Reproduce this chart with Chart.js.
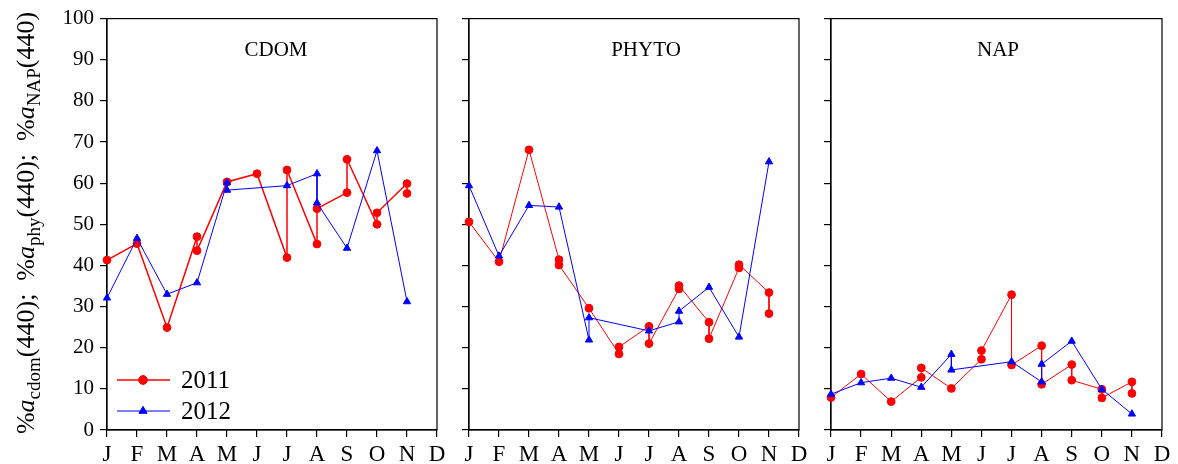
<!DOCTYPE html>
<html>
<head>
<meta charset="utf-8">
<script src="https://cdn.jsdelivr.net/npm/chart.js@4.4.1/dist/chart.umd.min.js"></script>
<style>
  html, body { margin: 0; padding: 0; background: #fff; }
  #wrap { position: relative; width: 1178px; height: 464px; background: #fff; overflow: hidden; }
  canvas { position: absolute; top: 0; }
</style>
</head>
<body>
<div id="wrap">
  <canvas id="c1" style="left:0px"></canvas>
  <canvas id="c2" style="left:455px"></canvas>
  <canvas id="c3" style="left:815px"></canvas>
</div>
<script>
// Month tick labels (x = 0 .. 11)
const MONTH_LABELS = ['J','F','M','A','M','J','J','A','S','O','N','D'];
const Y_TICKS = [0,10,20,30,40,50,60,70,80,90,100];
const YEARS = ['2011', '2012'];

// CDOM share of absorption at 440 nm (%), in sampling order
const cdomMonths2011 = [0,1,2,3,3,4,5,6,6,7,7,8,8,9,9,10,10];
const cdom2011 = [41.3,45.3,24.9,47.0,43.6,60.3,62.3,41.9,63.2,45.2,53.8,57.7,65.8,50.0,52.8,59.9,57.5];
const cdomMonths2012 = [0,1,2,3,4,4,6,7,7,8,9,10];
const cdom2012 = [32.1,46.6,33.0,35.8,60.1,58.3,59.4,62.3,55.2,44.2,67.9,31.2];

// Phytoplankton share (%)
const phytoMonths2011 = [0,1,2,3,3,4,5,5,6,6,7,7,8,8,9,9,10,10];
const phyto2011 = [50.6,40.9,68.1,41.4,40.1,29.6,18.5,20.2,25.2,21.0,34.3,35.1,26.2,22.2,39.4,40.2,33.4,28.3];
const phytoMonths2012 = [0,1,2,3,4,4,6,7,7,8,9,10];
const phyto2012 = [59.4,42.3,54.6,54.2,21.9,27.3,24.1,26.3,28.9,34.7,22.6,65.2];

// Non-algal particle share (%)
const napMonths2011 = [0,1,2,3,3,4,5,5,6,6,7,7,8,8,9,9,10,10];
const nap2011 = [7.9,13.6,6.9,12.8,15.1,10.1,17.2,19.3,32.9,15.8,20.5,11.1,15.9,12.1,9.9,7.8,11.7,8.9];
const napMonths2012 = [0,1,2,3,4,4,6,7,7,8,9,10];
const nap2012 = [8.7,11.5,12.6,10.4,18.4,14.6,16.6,11.7,16.0,21.6,9.9,3.9];

const SERIF = "'Liberation Serif', 'Times New Roman', serif";
const RED = '#ff0000';
const BLUE = '#0000ff';

function pairs(xs, ys) {
  return xs.map((x, i) => ({ x: x, y: ys[i] }));
}

// Box around the plotting area (top and right sides come from here)
const framePlugin = {
  id: 'frame',
  beforeDatasetsDraw(chart) {
    const a = chart.chartArea;
    const ctx = chart.ctx;
    ctx.save();
    ctx.strokeStyle = '#000';
    ctx.lineWidth = 1.2;
    ctx.strokeRect(a.left, a.top, a.right - a.left, a.bottom - a.top);
    ctx.restore();
  }
};

// Panel name inside the plot
const panelTitlePlugin = {
  id: 'panelTitle',
  afterDraw(chart, args, opts) {
    if (!opts || !opts.text) return;
    const ctx = chart.ctx;
    ctx.save();
    ctx.font = '21px ' + SERIF;
    ctx.fillStyle = '#000';
    ctx.textAlign = 'center';
    ctx.textBaseline = 'alphabetic';
    ctx.fillText(opts.text, opts.x, opts.y);
    ctx.restore();
  }
};

// Legend drawn inside the first panel, using the dataset styles
const insetLegendPlugin = {
  id: 'insetLegend',
  afterDraw(chart, args, opts) {
    if (!opts || !opts.show) return;
    const ctx = chart.ctx;
    const rows = [380, 411];
    chart.data.datasets.forEach((ds, i) => {
      const y = rows[i];
      ctx.save();
      ctx.strokeStyle = ds.borderColor;
      ctx.lineWidth = ds.borderWidth;
      ctx.beginPath();
      ctx.moveTo(117, y);
      ctx.lineTo(170, y);
      ctx.stroke();
      ctx.fillStyle = ds.pointBackgroundColor;
      ctx.strokeStyle = ds.pointBorderColor;
      ctx.lineWidth = 1;
      Chart.helpers.drawPoint(ctx, {
        pointStyle: ds.pointStyle,
        radius: ds.pointRadius + 0.5,
        rotation: 0,
        borderWidth: 1
      }, 143, y);
      ctx.font = '25px ' + SERIF;
      ctx.fillStyle = '#000';
      ctx.textAlign = 'left';
      ctx.textBaseline = 'middle';
      ctx.fillText(ds.label, 181, y + 1);
      ctx.restore();
    });
  }
};

// Rotated y-axis title with italic symbols and subscripts
const yTitlePlugin = {
  id: 'yTitle',
  afterDraw(chart, args, opts) {
    if (!opts || !opts.show) return;
    const ctx = chart.ctx;
    const main = '26px ' + SERIF;
    const ital = 'italic 26px ' + SERIF;
    const sub = '19px ' + SERIF;
    const parts = [
      ['%', main, 0], ['a', ital, 0], ['cdom', sub, 6], ['(440);  ', main, 0],
      ['%', main, 0], ['a', ital, 0], ['phy', sub, 6], ['(440);  ', main, 0],
      ['%', main, 0], ['a', ital, 0], ['NAP', sub, 6], ['(440)', main, 0]
    ];
    ctx.save();
    let total = 0;
    const widths = parts.map(p => { ctx.font = p[1]; const w = ctx.measureText(p[0]).width; total += w; return w; });
    ctx.translate(opts.x, opts.y);
    ctx.rotate(-Math.PI / 2);
    ctx.fillStyle = '#000';
    ctx.textBaseline = 'alphabetic';
    ctx.textAlign = 'left';
    let pos = -total / 2;
    parts.forEach((p, i) => {
      ctx.font = p[1];
      ctx.fillText(p[0], pos, p[2]);
      pos += widths[i];
    });
    ctx.restore();
  }
};

function makeChart(id, width, leftSpace, rightPad, d2011, d2012, title, redWidth, showY, extra) {
  const canvas = document.getElementById(id);
  canvas.width = width;
  canvas.height = 464;
  canvas.style.width = width + 'px';
  canvas.style.height = '464px';
  return new Chart(canvas, {
    type: 'line',
    data: {
      datasets: [
        {
          label: YEARS[0],
          data: d2011,
          borderColor: RED,
          backgroundColor: RED,
          borderWidth: redWidth,
          pointStyle: 'circle',
          pointRadius: 3.9,
          pointBackgroundColor: RED,
          pointBorderColor: RED,
          pointBorderWidth: 1,
          tension: 0,
          clip: false,
          order: 2
        },
        {
          label: YEARS[1],
          data: d2012,
          borderColor: BLUE,
          backgroundColor: BLUE,
          borderWidth: 1,
          pointStyle: 'triangle',
          pointRadius: 4.2,
          pointBackgroundColor: BLUE,
          pointBorderColor: BLUE,
          pointBorderWidth: 1,
          tension: 0,
          clip: false,
          order: 1
        }
      ]
    },
    options: {
      responsive: false,
      animation: false,
      devicePixelRatio: 1,
      layout: { padding: { top: 18, right: rightPad, left: 0, bottom: 0 } },
      plugins: {
        legend: { display: false },
        tooltip: { enabled: false },
        panelTitle: title,
        insetLegend: { show: !!extra },
        yTitle: extra ? { show: true, x: 34, y: 223 } : { show: false }
      },
      scales: {
        x: {
          type: 'linear',
          min: 0,
          max: 11,
          afterBuildTicks(scale) {
            scale.ticks = MONTH_LABELS.map((_, i) => ({ value: i }));
          },
          afterFit(scale) { scale.height = 34; },
          ticks: {
            autoSkip: false,
            maxRotation: 0,
            padding: 4,
            color: '#000',
            font: { family: SERIF, size: 23 },
            callback: (v) => MONTH_LABELS[v]
          },
          grid: { drawOnChartArea: false, drawTicks: true, tickLength: 7, color: '#000', lineWidth: 1.2 },
          border: { display: true, color: '#000', width: 1.2 }
        },
        y: {
          type: 'linear',
          min: 0,
          max: 100,
          afterBuildTicks(scale) {
            scale.ticks = Y_TICKS.map(v => ({ value: v }));
          },
          afterFit(scale) { scale.width = leftSpace; },
          ticks: {
            padding: 6,
            color: '#000',
            font: { family: SERIF, size: 21 },
            callback: (v) => showY ? String(v) : ''
          },
          grid: { drawOnChartArea: false, drawTicks: true, tickLength: 7, color: '#000', lineWidth: 1.2 },
          border: { display: true, color: '#000', width: 1.2 }
        }
      }
    },
    plugins: [framePlugin, panelTitlePlugin, insetLegendPlugin, yTitlePlugin]
  });
}

makeChart('c1', 455, 107, 18,
  pairs(cdomMonths2011, cdom2011), pairs(cdomMonths2012, cdom2012),
  { text: 'CDOM', x: 276, y: 56 }, 1.5, true, true);
makeChart('c2', 360, 14, 16,
  pairs(phytoMonths2011, phyto2011), pairs(phytoMonths2012, phyto2012),
  { text: 'PHYTO', x: 191, y: 56 }, 1, false, false);
makeChart('c3', 363, 16, 16,
  pairs(napMonths2011, nap2011), pairs(napMonths2012, nap2012),
  { text: 'NAP', x: 183, y: 56 }, 1, false, false);
</script>
</body>
</html>
